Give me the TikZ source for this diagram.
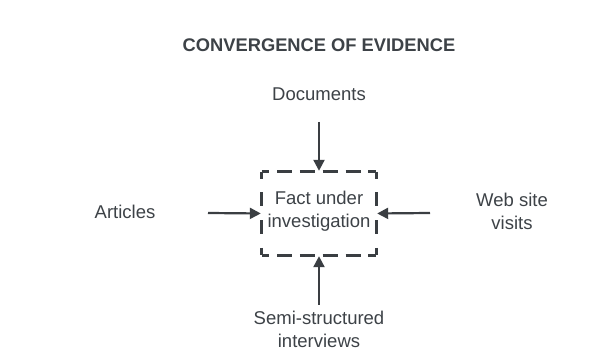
\documentclass[tikz,border=0pt]{standalone}
\usepackage{fontspec}
\setmainfont{Liberation Sans}
\usetikzlibrary{arrows.meta}
\definecolor{ink}{HTML}{3D4247}
\definecolor{edge}{HTML}{3A3E42}
\tikzset{
  label/.style={text=ink, font=\fontsize{18.5}{23}\selectfont, align=center, inner sep=0pt},
  heading/.style={text=ink, font=\fontsize{18.3}{20}\selectfont\bfseries, inner sep=0pt},
  factbox/.style={minimum width=114pt, minimum height=83pt, inner sep=0pt},
  feed/.style={draw=edge, line width=2.2pt, -{Triangle[length=11pt,width=11pt]}, shorten >=1pt},
  boxside/.style={draw=edge, line width=3pt}
}
\begin{document}
\begin{tikzpicture}[x=1pt,y=-1pt]
  \useasboundingbox[fill=white] (0,0) rectangle (611,352);

  \node[heading] (title) at (319,45) {CONVERGENCE OF EVIDENCE};

  \node[factbox] (fact) at (319,213.5) {};
  \node[label] (factText) at (319,211) {Fact under\\investigation};

  % dashed outline, one side at a time so each corner is a solid L
  \draw[boxside, dash pattern=on 15pt off 7.8pt, dash phase=7.5pt]
    (fact.north west) -- (fact.north east);
  \draw[boxside, dash pattern=on 15pt off 7.8pt, dash phase=7.5pt]
    (fact.south west) -- (fact.south east);
  \draw[boxside, dash pattern=on 14pt off 13.67pt, dash phase=7pt]
    (fact.north west) -- (fact.south west);
  \draw[boxside, dash pattern=on 14pt off 13.67pt, dash phase=7pt]
    (fact.north east) -- (fact.south east);

  \node[label] (docs) at (319,94) {Documents};
  \node[label] (articles) at (125,212) {Articles};
  \node[label] (web) at (512,211) {Web site\\visits};
  \node[label] (interviews) at (319,329) {Semi-structured\\interviews};

  \coordinate (docsEnd) at (319,122);
  \coordinate (artEnd) at (208,213);
  \coordinate (webEnd) at (430,213);
  \coordinate (intEnd) at (319,305);

  \draw[feed] (docsEnd) -- (fact.north);
  \draw[feed] (artEnd) -- (fact.west);
  \draw[feed] (webEnd) -- (fact.east);
  \draw[feed] (intEnd) -- (fact.south);
\end{tikzpicture}
\end{document}
